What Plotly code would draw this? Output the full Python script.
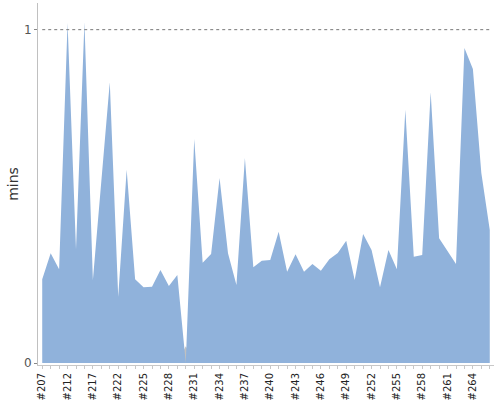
import plotly.graph_objects as go

builds = [207, 209, 210, 212, 214, 215, 217, 219, 220, 222] + list(range(223, 267))
labels = ["#%d" % b for b in builds]

# build durations (mins) for successful builds; the aborted build is shown in gray
success_mins = [0.251, 0.329, 0.281, 1.02, 0.341, 1.022, 0.249, 0.55, 0.842, 0.199,
                0.580, 0.251, 0.227, 0.229, 0.279, 0.231, 0.264, 0.0, 0.672, 0.301,
                0.327, 0.555, 0.329, 0.234, 0.615, 0.287, 0.307, 0.309, 0.394, 0.274,
                0.326, 0.274, 0.297, 0.277, 0.311, 0.330, 0.367, 0.249, 0.387, 0.339,
                0.227, 0.339, 0.281, 0.760, 0.319, 0.324, 0.812, 0.374, 0.334, 0.297,
                0.945, 0.882, 0.570, 0.399]
aborted_mins = [0.0] * len(builds)
aborted_mins[17] = 0.05

idx = list(range(len(builds)))

fig = go.Figure()
fig.add_trace(go.Scatter(x=idx, y=aborted_mins, mode="lines", fill="tozeroy",
                         line=dict(width=0, color="#c0c0c0"), fillcolor="#c0c0c0",
                         hoverinfo="skip"))
fig.add_trace(go.Scatter(x=idx, y=success_mins, mode="lines", fill="tozeroy",
                         line=dict(width=0, color="#90b2db"), fillcolor="#90b2db",
                         hoverinfo="skip"))

fig.add_shape(type="line", xref="x", yref="y", x0=0, x1=len(builds) - 1, y0=1, y1=1,
              line=dict(color="#777777", width=1, dash="dot"), layer="above")

fig.update_layout(
    width=500, height=400,
    margin=dict(l=38, r=6, t=3, b=35),
    paper_bgcolor="white", plot_bgcolor="white",
    showlegend=False,
    font=dict(family="DejaVu Sans", color="#333333"),
    xaxis=dict(range=[-0.5, len(builds) - 0.5], showgrid=False, zeroline=False,
               automargin=False,
               showline=True, linecolor="#c8c8c8", linewidth=1,
               tickmode="array", tickvals=idx[::3], ticktext=labels[::3],
               tickangle=-90, ticks="outside", ticklen=3, tickcolor="#c8c8c8",
               tickfont=dict(size=10, color="#222222"),
               minor=dict(dtick=1, tick0=0, ticks="outside", ticklen=3, tickcolor="#c8c8c8")),
    yaxis=dict(range=[-0.006, 1.08], showgrid=False, zeroline=False,
               automargin=False,
               showline=True, linecolor="#c0c0c0", linewidth=1,
               tickmode="array", tickvals=[0, 1], ticktext=["0", "1"],
               ticks="outside", ticklen=3, tickcolor="#888888",
               tickfont=dict(size=12, color="#555555"),
               title=dict(text="mins", font=dict(size=14, color="#333333"), standoff=2)),
)

fig.write_html("out.html", config={"displayModeBar": False},
               post_script="document.body.style.margin='0';")
